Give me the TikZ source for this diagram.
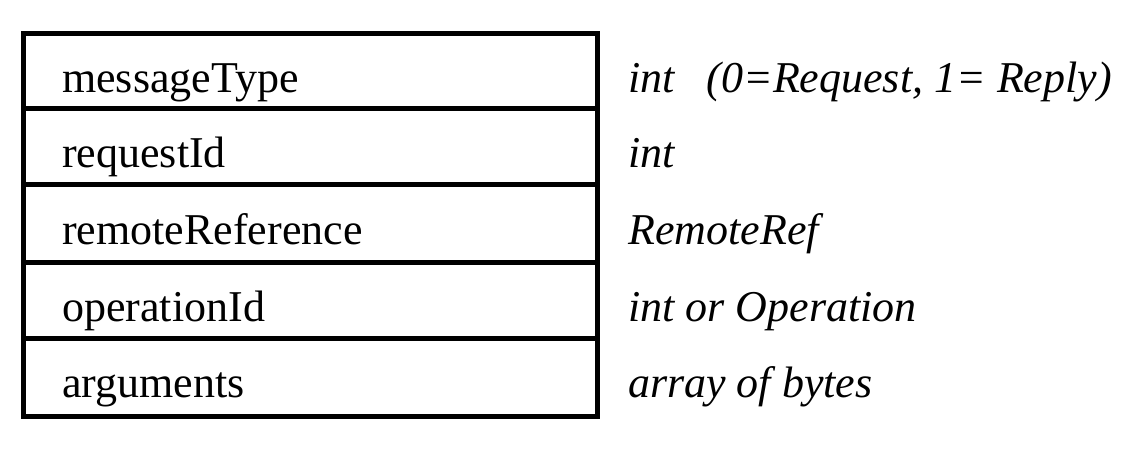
\documentclass[tikz,border=0pt]{standalone}
\usepackage{fontspec}
\setmainfont{Liberation Serif}
\begin{document}
\begin{tikzpicture}[x=1pt,y=-1pt,
  fieldtxt/.style={anchor=base west,inner sep=0pt,font=\fontsize{44}{50}\selectfont},
  typetxt/.style={anchor=base west,inner sep=0pt,font=\fontsize{44}{50}\selectfont\itshape},
  boxline/.style={line width=5pt}]
\useasboundingbox (0,0) rectangle (1128,456);
\draw[boxline] (23,33) rectangle (597,416);
\foreach \y in {108,184,262,338} \draw[boxline] (23,\y) -- (597,\y);
\node[fieldtxt] (f1) at (62,92) {messageType};
\node[fieldtxt] (f2) at (62,167) {requestId};
\node[fieldtxt] (f3) at (62,244) {remoteReference};
\node[fieldtxt] (f4) at (62,321) {operationId};
\node[fieldtxt] (f5) at (62,397) {arguments};
\node[typetxt] (t1) at (628,92) {int\hspace{32pt}(0=Request, 1= Reply)};
\node[typetxt] (t2) at (628,167) {int};
\node[typetxt] (t3) at (628,244) {RemoteRef};
\node[typetxt] (t4) at (628,321) {int or Operation};
\node[typetxt] (t5) at (628,397) {array of bytes};
\end{tikzpicture}
\end{document}
